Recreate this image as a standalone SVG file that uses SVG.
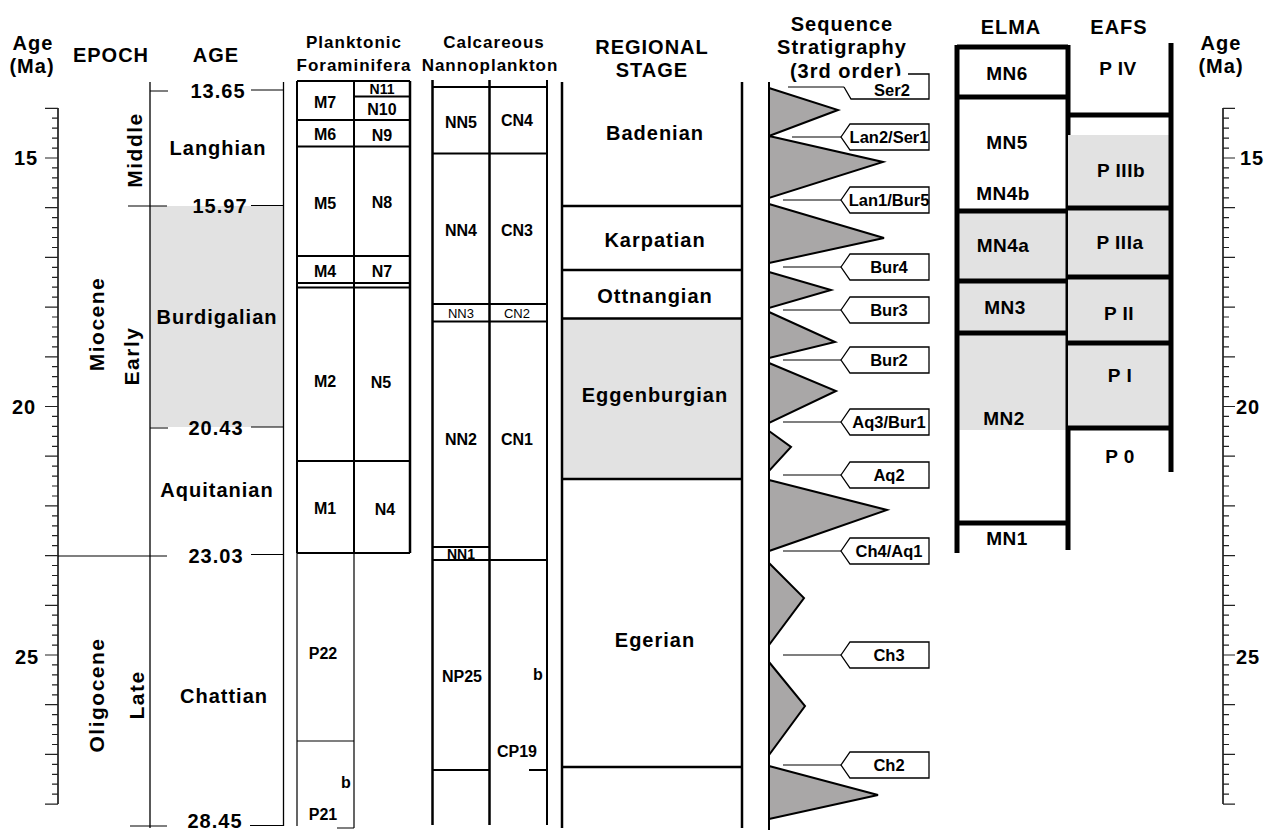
<svg xmlns="http://www.w3.org/2000/svg" width="1265" height="832" viewBox="0 0 1265 832">
<style>
text{font-family:"Liberation Sans",Arial,sans-serif;font-weight:bold;text-anchor:middle;fill:#000}
.h20{font-size:20px;letter-spacing:1px}
.h17{font-size:17px;letter-spacing:1px}
.l20{font-size:20px;letter-spacing:1px}
.ep{font-size:21px;letter-spacing:1.5px}
.c16{font-size:16px}
.c14{font-size:14px}
.sm{font-size:13px;font-weight:normal}
.el{font-size:19px;letter-spacing:0.5px}
.tg{font-size:16.5px}
.ln{stroke:#000;fill:none}
.thin{stroke:#000;stroke-width:1.2;fill:none}
.med{stroke:#000;stroke-width:2;fill:none}
.thk{stroke:#000;stroke-width:2.5;fill:none}
.elma{stroke:#000;stroke-width:5;fill:none}
.gray{fill:#e2e2e2}
.tri{fill:#a9a7a7;stroke:#000;stroke-width:2;stroke-linejoin:miter}
.tag{fill:#fff;stroke:#000;stroke-width:1.3}
.lead{stroke:#000;stroke-width:1.2}
.tick{stroke:#222;stroke-width:1.2;fill:none}
</style>

<g id="headers">
<text class="h20" x="33" y="50">Age</text>
<text class="h20" x="32" y="73">(Ma)</text>
<text class="h20" x="111" y="62">EPOCH</text>
<text class="h20" x="216" y="62">AGE</text>
<text class="h17" x="354" y="48">Planktonic</text>
<text class="h17" x="354" y="71">Foraminifera</text>
<text class="h17" x="494" y="48">Calcareous</text>
<text class="h17" x="490" y="71">Nannoplankton</text>
<text class="h20" x="652" y="54">REGIONAL</text>
<text class="h20" x="652" y="77">STAGE</text>
<text class="h20" x="842" y="31">Sequence</text>
<text class="h20" x="842" y="54">Stratigraphy</text>
<text class="h20" x="846" y="78">(3rd order)</text>
<text class="h20" x="1011" y="34">ELMA</text>
<text class="h20" x="1119" y="34">EAFS</text>
<text class="h20" x="1221" y="50">Age</text>
<text class="h20" x="1221" y="73">(Ma)</text>
</g>

<g id="left-scale">
<path class="ln" stroke-width="1.5" d="M58 108V804"/>
<path class="tick" d="M45 108.3H58M52 118.2H58M52 128.2H58M52 138.1H58M52 148.1H58M45 158H58M52 167.9H58M52 177.9H58M52 187.8H58M52 197.8H58M45 207.7H58M52 217.6H58M52 227.6H58M52 237.5H58M52 247.5H58M45 257.4H58M52 267.3H58M52 277.3H58M52 287.2H58M52 297.2H58M45 307.1H58M52 317H58M52 327H58M52 336.9H58M52 346.9H58M45 356.8H58M52 366.7H58M52 376.7H58M52 386.6H58M52 396.6H58M45 406.5H58M52 416.4H58M52 426.4H58M52 436.3H58M52 446.3H58M45 456.2H58M52 466.1H58M52 476.1H58M52 486H58M52 496H58M45 505.9H58M52 515.8H58M52 525.8H58M52 535.7H58M52 545.7H58M45 555.6H58M52 565.5H58M52 575.5H58M52 585.4H58M52 595.4H58M45 605.3H58M52 615.2H58M52 625.2H58M52 635.1H58M52 645.1H58M45 655H58M52 664.9H58M52 674.9H58M52 684.8H58M52 694.8H58M45 704.7H58M52 714.6H58M52 724.6H58M52 734.5H58M52 744.5H58M45 754.4H58M52 764.3H58M52 774.3H58M52 784.2H58M52 794.2H58M45 804.1H58"/>
<text class="l20" x="26" y="165">15</text>
<text class="l20" x="24" y="414">20</text>
<text class="l20" x="27" y="664">25</text>
</g>

<g id="right-scale">
<path class="ln" stroke-width="1.5" d="M1223 108V804"/>
<path class="tick" d="M1223 108.3H1235M1223 118.2H1229M1223 128.2H1229M1223 138.1H1229M1223 148.1H1229M1223 158H1235M1223 167.9H1229M1223 177.9H1229M1223 187.8H1229M1223 197.8H1229M1223 207.7H1235M1223 217.6H1229M1223 227.6H1229M1223 237.5H1229M1223 247.5H1229M1223 257.4H1235M1223 267.3H1229M1223 277.3H1229M1223 287.2H1229M1223 297.2H1229M1223 307.1H1235M1223 317H1229M1223 327H1229M1223 336.9H1229M1223 346.9H1229M1223 356.8H1235M1223 366.7H1229M1223 376.7H1229M1223 386.6H1229M1223 396.6H1229M1223 406.5H1235M1223 416.4H1229M1223 426.4H1229M1223 436.3H1229M1223 446.3H1229M1223 456.2H1235M1223 466.1H1229M1223 476.1H1229M1223 486H1229M1223 496H1229M1223 505.9H1235M1223 515.8H1229M1223 525.8H1229M1223 535.7H1229M1223 545.7H1229M1223 555.6H1235M1223 565.5H1229M1223 575.5H1229M1223 585.4H1229M1223 595.4H1229M1223 605.3H1235M1223 615.2H1229M1223 625.2H1229M1223 635.1H1229M1223 645.1H1229M1223 655H1235M1223 664.9H1229M1223 674.9H1229M1223 684.8H1229M1223 694.8H1229M1223 704.7H1235M1223 714.6H1229M1223 724.6H1229M1223 734.5H1229M1223 744.5H1229M1223 754.4H1235M1223 764.3H1229M1223 774.3H1229M1223 784.2H1229M1223 794.2H1229M1223 804.1H1235"/>
<text class="l20" x="1252" y="165">15</text>
<text class="l20" x="1248" y="414">20</text>
<text class="l20" x="1248" y="664">25</text>
</g>

<g id="epoch-age">
<rect class="gray" x="150" y="206" width="133" height="221"/>
<path class="ln" stroke-width="1.3" d="M150 82V828M283.5 82V826"/>
<path class="thin" d="M150 91H168M251 90H284M128 206H167M251 205.5H284M150 428H168M251 427H284M58 556H167M251 554.5H284M130 826H167M250 825.5H284"/>
<text class="ep" transform="translate(135,150) rotate(-90)" y="7">Middle</text>
<text class="ep" transform="translate(97,324) rotate(-90)" y="7">Miocene</text>
<text class="ep" transform="translate(132,356) rotate(-90)" y="7">Early</text>
<text class="ep" transform="translate(97,695) rotate(-90)" y="7">Oligocene</text>
<text class="ep" transform="translate(137,695) rotate(-90)" y="7">Late</text>
<text class="l20" x="218" y="98">13.65</text>
<text class="l20" x="218" y="155">Langhian</text>
<text class="l20" x="220" y="213">15.97</text>
<text class="l20" x="217" y="324">Burdigalian</text>
<text class="l20" x="216" y="435">20.43</text>
<text class="l20" x="217" y="497">Aquitanian</text>
<text class="l20" x="216" y="563">23.03</text>
<text class="l20" x="224" y="703">Chattian</text>
<text class="l20" x="215" y="828">28.45</text>
</g>

<g id="planktonic-foraminifera">
<path class="med" d="M297 81V553M354 81V553M297 81H410M354 96.5H410M297 120H410M297 146.5H410M297 256H410M297 283H410M297 287.5H410M297 461H410M297 553H410"/>
<path class="thk" d="M410 81V553"/>
<path class="thin" d="M297 553V826M354 553V828M297 741H354M337 828H354"/>
<text class="c16" x="325" y="108">M7</text>
<text class="c14" x="382" y="94">N11</text>
<text class="c16" x="382" y="115">N10</text>
<text class="c16" x="325" y="140">M6</text>
<text class="c16" x="382" y="141">N9</text>
<text class="c16" x="325" y="209">M5</text>
<text class="c16" x="382" y="208">N8</text>
<text class="c16" x="325" y="277">M4</text>
<text class="c16" x="382" y="277">N7</text>
<text class="c16" x="325" y="387">M2</text>
<text class="c16" x="381" y="388">N5</text>
<text class="c16" x="325" y="514">M1</text>
<text class="c16" x="385" y="515">N4</text>
<text class="c16" x="323" y="659">P22</text>
<text class="c16" x="346" y="788">b</text>
<text class="c16" x="323" y="820">P21</text>
</g>

<g id="calcareous-nannoplankton">
<path class="thk" d="M432.5 80V825M489.5 80V825"/>
<path class="med" d="M547 80V825M432 87H547M432 153.5H547M432 304H547M432 321.5H547M432 547H489M432 560H547M432 770H489M529 770H547"/>
<text class="c16" x="461" y="128">NN5</text>
<text class="c16" x="517" y="126">CN4</text>
<text class="c16" x="461" y="236">NN4</text>
<text class="c16" x="517" y="236">CN3</text>
<text class="sm" x="461" y="318">NN3</text>
<text class="sm" x="517" y="318">CN2</text>
<text class="c16" x="461" y="445">NN2</text>
<text class="c16" x="517" y="445">CN1</text>
<text class="c14" x="461" y="559">NN1</text>
<text class="c16" x="462" y="682">NP25</text>
<text class="c16" x="538" y="680">b</text>
<text class="c16" x="517" y="757">CP19</text>
</g>

<g id="regional-stage">
<rect class="gray" x="562" y="319" width="180" height="160"/>
<path class="thk" d="M562 82V828M742 82V828M562 206H742M562 270H742M562 318.5H742M562 479H742M562 767H742"/>
<text class="l20" x="655" y="140">Badenian</text>
<text class="l20" x="655" y="247">Karpatian</text>
<text class="l20" x="655" y="303">Ottnangian</text>
<text class="l20" x="655" y="402">Eggenburgian</text>
<text class="l20" x="655" y="647">Egerian</text>
</g>

<g id="sequence-stratigraphy">
<path class="med" d="M769 82V830"/>
<polygon class="tri" points="769,88 838,110 769,136"/>
<polygon class="tri" points="769,136 883,162 769,198"/>
<polygon class="tri" points="769,204 884,238 769,263"/>
<polygon class="tri" points="769,272 831,290 769,308"/>
<polygon class="tri" points="769,312 835,342 769,358"/>
<polygon class="tri" points="769,363 836,391 769,423"/>
<polygon class="tri" points="769,431 791,447 769,471"/>
<polygon class="tri" points="769,480 887,510 769,551"/>
<polygon class="tri" points="769,563 804,598 769,645"/>
<polygon class="tri" points="769,662 805,706 769,755"/>
<polygon class="tri" points="769,766 878,795 769,819"/>
</g>

<g id="sequence-tags">
<path class="lead" d="M788 87H844M792 137H841M783 200H841M783 267H841M783 310H841M783 360H841M783 422H841M783 475H841M783 551H841M783 655H841M783 765H841"/>
<path class="tag" d="M908 74H929V99H851L844 87"/>
<text class="tg" x="892" y="96">Ser2</text>
<polygon class="tag" points="841,137 850,124 929,124 929,150 850,150"/>
<text class="tg" x="889" y="143">Lan2/Ser1</text>
<polygon class="tag" points="841,200 850,187 929,187 929,213 850,213"/>
<text class="tg" x="889" y="206">Lan1/Bur5</text>
<polygon class="tag" points="841,267 850,254 929,254 929,280 850,280"/>
<text class="tg" x="889" y="273">Bur4</text>
<polygon class="tag" points="841,310 850,297 929,297 929,323 850,323"/>
<text class="tg" x="889" y="316">Bur3</text>
<polygon class="tag" points="841,360 850,347 929,347 929,373 850,373"/>
<text class="tg" x="889" y="366">Bur2</text>
<polygon class="tag" points="841,422 850,409 929,409 929,435 850,435"/>
<text class="tg" x="889" y="428">Aq3/Bur1</text>
<polygon class="tag" points="841,475 850,462 929,462 929,488 850,488"/>
<text class="tg" x="889" y="481">Aq2</text>
<polygon class="tag" points="841,551 850,538 929,538 929,564 850,564"/>
<text class="tg" x="889" y="557">Ch4/Aq1</text>
<polygon class="tag" points="841,655 850,642 929,642 929,668 850,668"/>
<text class="tg" x="889" y="661">Ch3</text>
<polygon class="tag" points="841,765 850,752 929,752 929,778 850,778"/>
<text class="tg" x="889" y="771">Ch2</text>
</g>

<g id="elma">
<rect class="gray" x="957" y="211" width="111" height="219"/>
<path class="elma" d="M957 45V553M1068 45V550M957 47H1068M957 97H1068M957 211H1068M957 281H1068M957 333H1068M957 523H1068"/>
<text class="el" x="1007" y="80">MN6</text>
<text class="el" x="1007" y="149">MN5</text>
<text class="el" x="1003" y="200">MN4b</text>
<text class="el" x="1003" y="252">MN4a</text>
<text class="el" x="1005" y="314">MN3</text>
<text class="el" x="1004" y="425">MN2</text>
<text class="el" x="1007" y="545">MN1</text>
</g>

<g id="eafs">
<rect class="gray" x="1068" y="135" width="103" height="293"/>
<path class="elma" d="M1171 43V472M1068 115H1171M1068 208H1171M1068 277H1171M1068 343H1171M1068 428H1171"/>
<text class="el" x="1118" y="75">P IV</text>
<text class="el" x="1121" y="177">P IIIb</text>
<text class="el" x="1120" y="249">P IIIa</text>
<text class="el" x="1119" y="320">P II</text>
<text class="el" x="1120" y="382">P I</text>
<text class="el" x="1120" y="463">P 0</text>
</g>
</svg>
